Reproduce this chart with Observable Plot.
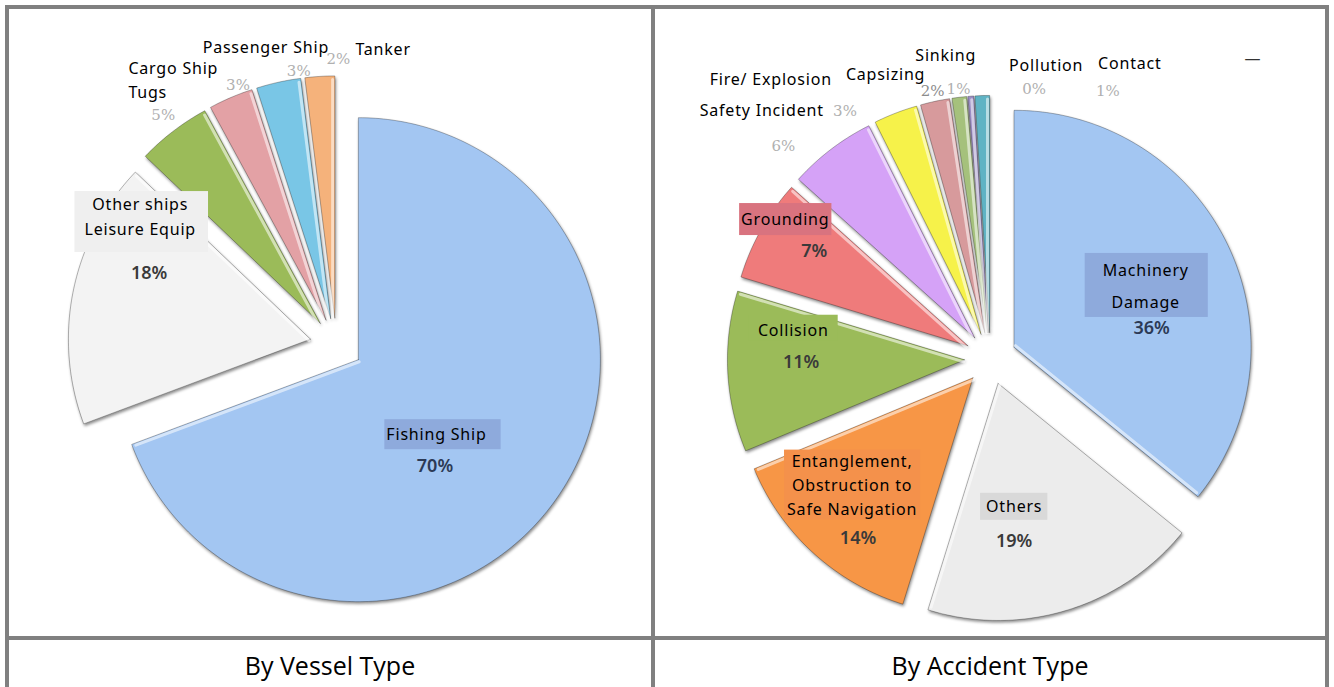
<!DOCTYPE html>
<html><head><meta charset="utf-8">
<script src="https://cdn.jsdelivr.net/npm/d3@7"></script>
<script src="https://cdn.jsdelivr.net/npm/@observablehq/plot@0.6"></script>
<style>
html,body{margin:0;padding:0;background:#fff;width:1334px;height:687px;overflow:hidden;}
#page{position:relative;width:1334px;height:687px;}
.rule{position:absolute;background:#808080;}
.cell{position:absolute;}
.caption{position:absolute;font-family:"Open Sans",sans-serif;font-size:25px;color:#000;text-align:center;line-height:1;}
.slice{filter:drop-shadow(1.5px 2px 1.5px rgba(0,0,0,0.45));}
g[fill="#000"] text{letter-spacing:0.8px;}
</style></head><body><div id="page"></div>
<script>
// ---------------- DATA ----------------
const vesselTypes = ["Fishing Ship", "Other ships\nLeisure Equip", "Tugs", "Cargo Ship", "Passenger Ship", "Tanker"];
const vesselShares = [70, 18, 5, 3, 3, 2];
const accidentTypes = ["Machinery\nDamage", "Others", "Entanglement,\nObstruction to\nSafe Navigation", "Collision", "Grounding",
  "Safety Incident", "Fire/ Explosion", "Capsizing", "Sinking", "Pollution", "Contact"];
const accidentShares = [36, 19, 14, 11, 7, 6, 3, 2, 1, 0.4, 1];
const captions = ["By Vessel Type", "By Accident Type"];

// ---------------- STYLE ----------------
const vesselColors = ["#a3c6f2", "#f3f3f3", "#9bbb59", "#e3a1a5", "#79c6e6", "#f5b27b"];
const accidentColors = ["#a3c6f2", "#ececec", "#f79646", "#9bbb59", "#ef7b7b", "#d5a2f7", "#f6f24a", "#d79a9c", "#a5c17c", "#9a8cc4", "#5fb3c4"];

// label layout (pie-radius units relative to the pie centre, y up)
const vesselNameLayout = [
  {x: 0.206, y: -0.370, anchor: "start", box: "#8eaadc", pad: [2, 14, 4, 4]},
  {x: -0.811, y: 0.537, anchor: "middle", lh: 1.56, box: "#efefef", pad: [10, 12, 2, 12]},
  {x: -0.860, y: 1.045, anchor: "start"},
  {x: -0.860, y: 1.144, anchor: "start"},
  {x: -0.292, y: 1.230, anchor: "middle"},
  {x: 0.078, y: 1.222, anchor: "start"}
];
const vesselPctLayout = [
  {x: 0.407, y: -0.502, strong: true, fill: "#2c3a56"},
  {x: -0.774, y: 0.296, strong: true},
  {x: -0.716, y: 0.947},
  {x: -0.407, y: 1.070},
  {x: -0.156, y: 1.128},
  {x: 0.008, y: 1.177}
];
const accidentNameLayout = [
  {x: 0.655, y: 0.324, anchor: "middle", lh: 2, box: "#8eaadc", pad: [18, 19, 6, 4]},
  {x: 0.100, y: -0.621, anchor: "middle", box: "#d9d9d9", pad: [6, 5, 2, 3]},
  {x: -0.584, y: -0.525, anchor: "middle", lh: 1.5, box: "#f4914b", pad: [3, 3, 0, 0]},
  {x: -0.832, y: 0.122, anchor: "middle", box: "#9bbb59", pad: [9, 9, 4, 0]},
  {x: -0.866, y: 0.589, anchor: "middle", box: "#d9737f", pad: [2, 2, 5, 5]},
  {x: -1.227, y: 1.051, anchor: "start"},
  {x: -1.185, y: 1.181, anchor: "start"},
  {x: -0.610, y: 1.202, anchor: "start"},
  {x: -0.189, y: 1.282, anchor: "middle"},
  {x: 0.235, y: 1.240, anchor: "middle"},
  {x: 0.588, y: 1.248, anchor: "middle"}
];
const accidentPctLayout = [
  {x: 0.680, y: 0.126, strong: true, fill: "#2c3a56"},
  {x: 0.100, y: -0.773, strong: true},
  {x: -0.559, y: -0.760, strong: true},
  {x: -0.799, y: -0.016, strong: true},
  {x: -0.744, y: 0.454, strong: true},
  {x: -0.874, y: 0.895},
  {x: -0.614, y: 1.042},
  {x: -0.244, y: 1.126, fill: "#8c8c8c"},
  {x: -0.135, y: 1.135},
  {x: 0.184, y: 1.135},
  {x: 0.495, y: 1.126}
];

// ---------------- PAGE FRAME ----------------
const page = document.getElementById("page");
function rule(l, t, w, h) { const d = document.createElement("div"); d.className = "rule"; Object.assign(d.style, {left: l + "px", top: t + "px", width: w + "px", height: h + "px"}); page.appendChild(d); }
rule(5, 5, 1324, 4); rule(5, 5, 4, 682); rule(651, 5, 4, 682); rule(1325, 5, 4, 682); rule(5, 636, 1324, 4);

function caption(text, left, width) {
  const d = document.createElement("div"); d.className = "caption"; d.textContent = text;
  Object.assign(d.style, {left: left + "px", top: "653px", width: width + "px"}); page.appendChild(d);
}

// ---------------- PIE ----------------
function pie({names, values, colors, nameLayout, pctLayout, left, top, W, H, cx, cy, r, explode, extra = []}) {
  const arcs = d3.pie().sort(null).value(d => d)(values);
  const marks = [];
  arcs.forEach((a, i) => {
    const m = (a.startAngle + a.endAngle) / 2;
    const ox = explode * Math.sin(m), oy = explode * Math.cos(m);
    const rows = [{x: ox, y: oy}];
    const n = Math.max(2, Math.ceil((a.endAngle - a.startAngle) / (Math.PI / 180)));
    for (let j = 0; j <= n; j++) {
      const t = a.startAngle + (a.endAngle - a.startAngle) * j / n;
      rows.push({x: ox + Math.sin(t), y: oy + Math.cos(t)});
    }
    rows.push({x: ox, y: oy});
    marks.push(Plot.line(rows, {x: "x", y: "y", fill: colors[i], stroke: "rgba(0,0,0,0.28)", strokeWidth: 1}));
    const t = a.endAngle, inset = 2.2 / r;
    const ix = -Math.cos(t) * inset, iy = Math.sin(t) * inset;
    const edge = [{x: ox + ix, y: oy + iy}, {x: ox + ix + Math.sin(t) * 0.985, y: oy + iy + Math.cos(t) * 0.985}];
    marks.push(Plot.line(edge, {x: "x", y: "y", stroke: "#ffffff", strokeOpacity: 0.55, strokeWidth: 3}));
  });

  names.forEach((nm, i) => {
    const L = nameLayout[i];
    marks.push(Plot.text([{x: L.x, y: L.y, t: nm}], {x: "x", y: "y", text: "t", textAnchor: L.anchor,
      lineHeight: L.lh || 1.2, fontSize: 16, fill: "#000", fontFamily: "Noto Sans"}));
    const P = pctLayout[i];
    const pct = Math.round(values[i]) + "%";
    if (P.strong) {
      marks.push(Plot.text([{x: P.x, y: P.y, t: pct}], {x: "x", y: "y", text: "t", fontSize: 18, fontWeight: 600,
        fill: P.fill || "#3a3a3a", fontFamily: "Noto Sans"}));
    } else {
      marks.push(Plot.text([{x: P.x, y: P.y, t: pct}], {x: "x", y: "y", text: "t", fontSize: 15,
        fill: P.fill || "#b0b0b0", fontFamily: "DejaVu Serif"}));
    }
  });
  extra.forEach(e => marks.push(Plot.text([e], {x: "x", y: "y", text: "t", fontSize: 16, fill: "#333", fontFamily: "Noto Sans"})));

  const svg = Plot.plot({
    width: W, height: H, margin: 0,
    style: {background: "transparent", overflow: "visible"},
    x: {domain: [-cx / r, (W - cx) / r], axis: null},
    y: {domain: [(cy - H) / r, cy / r], axis: null},
    marks
  });
  const cell = document.createElement("div"); cell.className = "cell";
  Object.assign(cell.style, {left: left + "px", top: top + "px", width: W + "px", height: H + "px"});
  cell.appendChild(svg); page.appendChild(cell);

  // shading on the slice paths (filled line marks)
  svg.querySelectorAll("path").forEach(p => {
    const g = p.closest("g");
    const f = g && g.getAttribute("fill");
    if (f && f !== "none") p.classList.add("slice");
  });

  // label background boxes, sized from the rendered text
  const texts = Array.from(svg.querySelectorAll("text"));
  nameLayout.forEach((L, i) => {
    if (!L.box) return;
    const target = names[i].replace(/\s+/g, "");
    const el = texts.find(t => t.textContent.replace(/\s+/g, "") === target);
    if (!el) return;
    const bb = el.getBBox();
    const rect = document.createElementNS("http://www.w3.org/2000/svg", "rect");
    rect.setAttribute("x", bb.x - L.pad[0]); rect.setAttribute("y", bb.y - L.pad[2]);
    rect.setAttribute("width", bb.width + L.pad[0] + L.pad[1]); rect.setAttribute("height", bb.height + L.pad[2] + L.pad[3]);
    rect.setAttribute("fill", L.box);
    const tr = el.getAttribute("transform");
    if (tr) rect.setAttribute("transform", tr);
    el.parentNode.insertBefore(rect, el);
  });
}

pie({names: vesselTypes, values: vesselShares, colors: vesselColors, nameLayout: vesselNameLayout, pctLayout: vesselPctLayout,
  left: 9, top: 9, W: 642, H: 627, cx: 327, cy: 335, r: 242, explode: 0.11});
pie({names: accidentTypes, values: accidentShares, colors: accidentColors, nameLayout: accidentNameLayout, pctLayout: accidentPctLayout,
  left: 655, top: 9, W: 670, H: 627, cx: 335, cy: 349, r: 237, explode: 0.11,
  extra: [{x: 1.105, y: 1.265, t: "—"}]});

caption(captions[0], 9, 642);
caption(captions[1], 655, 670);
</script>
</body></html>
